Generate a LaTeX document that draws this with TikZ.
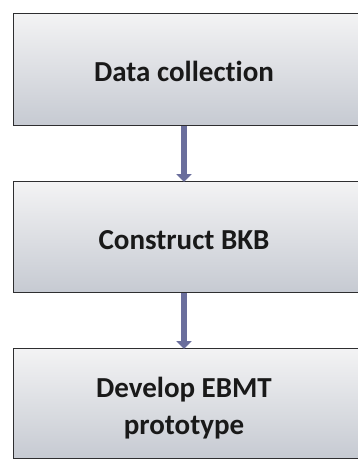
\documentclass[tikz,border=0pt]{standalone}
\usepackage{fontspec}
\setmainfont[Ligatures=NoCommon]{Carlito}
\usetikzlibrary{arrows.meta}
\definecolor{boxtop}{HTML}{F3F3F4}
\definecolor{boxbot}{HTML}{C6CAD2}
\definecolor{edge}{HTML}{2E2E30}
\definecolor{arrowc}{HTML}{6A6E9C}
\tikzset{
  stagebox/.style={draw=edge, line width=1.3pt, top color=boxtop, bottom color=boxbot,
    minimum width=360pt, inner sep=0pt, anchor=north west},
  stagetext/.style={font=\bfseries\fontsize{29}{37}\selectfont, text=black!90, align=center},
  flow/.style={draw=arrowc, line width=6pt, -{Triangle[width=15pt,length=8pt]}, shorten >=-1pt}
}
\begin{document}
\begin{tikzpicture}[x=1pt,y=-1pt]
\useasboundingbox (0,0) rectangle (358,459);
\fill[white] (0,0) rectangle (358,459);
\clip (0,0) rectangle (358,459);
\node[stagebox, minimum height=112pt] (b1) at (12.5,13) {};
\node[stagebox, minimum height=111pt] (b2) at (12.5,181) {};
\node[stagebox, minimum height=110pt] (b3) at (12.5,348) {};
\node[stagetext] (t1) at (184,71) {Data collection};
\node[stagetext] (t2) at (184,240) {Construct BKB};
\node[stagetext] (t3) at (184,408) {Develop EBMT\\prototype};
\coordinate (a1s) at (184,126);
\coordinate (a1e) at (184,181);
\coordinate (a2s) at (184,293);
\coordinate (a2e) at (184,348);
\draw[flow] (a1s |- b1.south) -- (a1e |- b2.north);
\draw[flow] (a2s |- b2.south) -- (a2e |- b3.north);
\end{tikzpicture}
\end{document}
